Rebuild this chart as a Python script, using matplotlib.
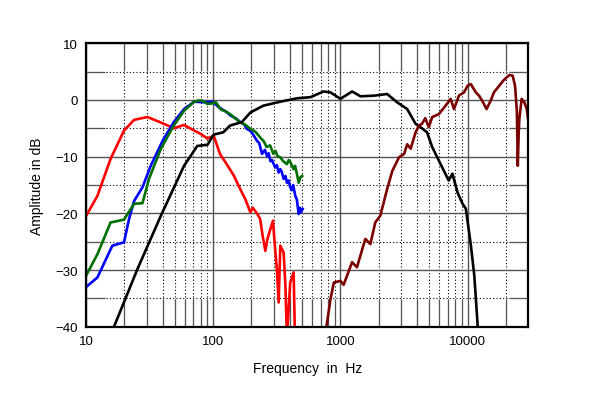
import matplotlib.pyplot as plt
from matplotlib.ticker import FixedLocator, NullFormatter

plt.rcParams['font.family'] = ['Liberation Sans', 'DejaVu Sans']

# woofer 1 (red)
red_f = [10, 12.3, 15.6, 19.9, 23.9, 30.4, 41, 49, 59, 71, 80, 90, 101, 113, 125,
         145, 163, 179, 196, 205, 214, 224, 234, 245, 257, 267, 277, 295, 307, 317,
         327, 337, 358, 370, 380, 403, 429, 442]
red_db = [-20.5, -16.9, -10.4, -5.4, -3.5, -3.0, -4.2, -5.0, -4.4, -5.4, -6.0, -6.8,
          -6.3, -9.5, -11.0, -13.3, -15.7, -17.5, -19.8, -19.0, -19.6, -20.2, -21.0,
          -24.0, -26.6, -24.5, -23.3, -21.3, -26.3, -30.0, -35.7, -25.7, -26.9, -33.0,
          -42.0, -32.2, -30.4, -45.0]

# woofer 2 (blue)
blue_f = [10, 12.3, 16.1, 19.9, 21.8, 23.9, 27.8, 32.3, 40, 49, 59, 71, 85, 99, 111,
          125, 138, 150, 163, 175, 184, 195, 205, 221, 230, 242, 255, 265, 273, 282,
          290, 307, 317, 327, 337, 345, 358, 370, 380, 392, 403, 415, 425, 442, 455,
          470, 480, 490, 505]
blue_db = [-33.0, -31.3, -25.7, -25.1, -21.0, -17.8, -15.4, -11.6, -7.2, -3.9, -1.6,
           -0.3, -0.4, -0.3, -1.3, -2.0, -2.8, -3.2, -3.9, -4.3, -5.1, -5.4, -6.0,
           -7.2, -7.6, -9.5, -8.8, -9.9, -9.4, -10.8, -10.6, -11.9, -11.5, -12.8,
           -12.2, -12.6, -13.9, -13.4, -14.6, -14.2, -15.4, -15.9, -15.0, -16.9,
           -17.6, -20.1, -19.0, -19.8, -19.2]

# woofer 3 (green)
green_f = [10, 12.3, 15.6, 19.9, 23.9, 27.8, 31.3, 38.8, 49, 59, 71, 76, 82, 90, 98,
           105, 115, 125, 136, 150, 163, 180, 196, 215, 234, 250, 263, 280, 297, 310,
           320, 337, 355, 380, 392, 405, 429, 440, 455, 470, 485, 500]
green_db = [-31.0, -27.2, -21.6, -21.1, -18.3, -18.2, -13.9, -8.6, -4.5, -1.9, -0.3,
            -0.1, -0.1, -0.7, -0.6, -0.4, -1.7, -2.0, -2.5, -3.3, -3.9, -4.4, -5.1,
            -5.6, -6.6, -7.3, -8.3, -8.0, -9.5, -9.0, -9.9, -10.1, -10.8, -11.3,
            -10.6, -11.0, -12.2, -11.6, -13.0, -14.6, -13.6, -13.4]

# midrange (black)
black_f = [15, 16.6, 25.4, 38.8, 59, 75, 90, 101, 120, 136, 168, 196, 248, 337, 456,
           582, 738, 836, 1000, 1236, 1440, 1830, 2330, 2790, 3350, 3900, 4380, 4800,
           5270, 6130, 7100, 7600, 8330, 9130, 9690, 10620, 11290, 12000, 12300]
black_db = [-42.5, -40.0, -29.8, -20.4, -11.6, -8.1, -7.9, -6.1, -5.7, -4.5, -3.9,
            -2.2, -1.0, -0.3, 0.3, 0.5, 1.5, 1.35, 0.2, 1.5, 0.65, 0.76, 1.06, -0.4,
            -1.6, -4.2, -5.0, -5.7, -8.3, -11.3, -14.2, -13.0, -16.3, -18.3, -19.2,
            -25.7, -31.0, -39.8, -42.0]

# tweeter (dark red)
tw_f = [740, 777, 836, 888, 1000, 1060, 1236, 1350, 1570, 1720, 1880, 2060, 2330,
        2560, 2890, 3170, 3350, 3570, 3900, 4150, 4380, 4650, 4950, 5270, 5940, 6710,
        7360, 7810, 8560, 9390, 9980, 10600, 11600, 12300, 13000, 14100, 15200, 16100,
        17700, 19400, 21300, 22600, 23600, 24400, 24800, 25200, 25500, 26600, 27900,
        29200, 30000]
tw_db = [-45.0, -40.0, -35.1, -32.2, -31.9, -32.6, -28.6, -29.5, -24.5, -25.4, -21.6,
         -20.4, -15.7, -12.5, -10.1, -9.5, -7.8, -8.6, -5.7, -4.5, -4.2, -3.2, -4.8,
         -3.0, -2.5, -1.0, 0.2, -1.6, 0.8, 1.35, 2.5, 2.8, 1.35, 0.76, -0.1, -1.6,
         -0.1, 1.35, 2.5, 3.6, 4.4, 4.3, 2.5, -2.0, -11.6, -6.0, -3.4, 0.2, -0.4, -1.6,
         -3.6]

x_ticks = [10, 100, 1000, 10000]
x_labels = ['10', '100', '1000', '10000']
y_ticks = [10, 0, -10, -20, -30, -40]

fig = plt.figure(figsize=(6, 4.06), dpi=100)
ax = fig.add_axes([0.1433, 0.1926, 0.7372, 0.6983])

lw = 1.9
ax.plot(red_f, red_db, color='#ff0000', lw=lw)
ax.plot(blue_f, blue_db, color='#0000ff', lw=lw)
ax.plot(green_f, green_db, color='#007000', lw=lw)
ax.plot(black_f, black_db, color='black', lw=lw)
ax.plot(tw_f, tw_db, color='#7a0000', lw=lw)

ax.set_xscale('log')
ax.set_xlim(10, 30000)
ax.set_ylim(-40, 10)

ax.set_xticks(x_ticks)
ax.set_xticklabels(x_labels)
ax.set_yticks(y_ticks)
minor_x = [m * d for d in [10, 100, 1000, 10000] for m in range(2, 10) if m * d < 30000]
ax.xaxis.set_minor_locator(FixedLocator(minor_x))
ax.xaxis.set_minor_formatter(NullFormatter())
ax.yaxis.set_minor_locator(FixedLocator([5, -5, -15, -25, -35]))

ax.grid(which='major', color='#555555', lw=1.0, ls='-')
ax.grid(which='minor', color='black', lw=0.8, ls=(0, (1, 2)))
ax.set_axisbelow(True)

ax.tick_params(which='major', length=0, labelsize=9.5, pad=6)
ax.tick_params(axis='x', which='minor', direction='in', length=20, width=0.9,
               color='#555555', top=True, bottom=True)
ax.tick_params(axis='y', which='minor', direction='in', length=14, width=0.9,
               color='#555555', left=True, right=True)

for s in ax.spines.values():
    s.set_linewidth(1.6)
    s.set_color('black')

ax.set_xlabel('Frequency  in  Hz', fontsize=10, labelpad=10)
ax.set_ylabel('Amplitude in dB', fontsize=10, labelpad=8)

fig.savefig('out.png', dpi=100)
